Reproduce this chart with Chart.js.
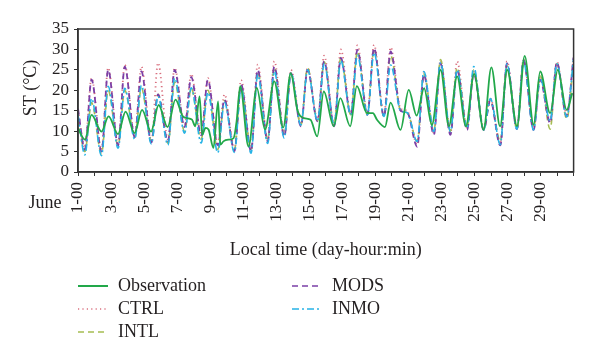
<!DOCTYPE html>
<html><head><meta charset="utf-8">
<script src="https://cdn.jsdelivr.net/npm/chart.js@4.4.1/dist/chart.umd.min.js"></script>
<style>html,body{margin:0;padding:0;background:#fff}canvas{display:block}</style>
</head><body>
<canvas id="c" width="600" height="361"></canvas>
<script>
// ---- data ----
// x tick labels, one per day tick (day 0 .. day 30)
const dayTickLabels = ['1-00','','3-00','','5-00','','7-00','','9-00','','11-00','','13-00','','15-00','','17-00','','19-00','','21-00','','23-00','','25-00','','27-00','','29-00','',''];
const yTicks = [0,5,10,15,20,25,30,35];

// Observation: time (hours since June 1 00:00) and soil temperature (°C)
const obsHours = [0,10.1,19.7,34.1,44.4,58.1,69.1,82.1,93.1,106.1,117.1,130.1,141.6,152.4,158.4,165.6,170.4,176.6,180.5,185.3,189.6,196.8,203.5,206.9,211.2,218.4,226.1,230.4,235.7,247.7,259.7,271.7,285.1,298.1,309.1,318.7,328.3,337.9,347.5,357.1,371.5,381.1,395.5,405.1,419.5,428.4,434.4,445.9,454.1,468.5,480.5,492.0,502.8,514.1,526.8,538.8,550.8,563.5,575.5,589.2,600.5,613.2,623.5,637.9,648.9,661.9,671.5,685.9,697.0,709.9,718.0];
const obsValues = [10.7,7.9,14.0,9.9,13.6,9.3,14.8,9.5,15.2,9.9,16.4,11.0,17.7,13.6,13.2,12.8,11.2,18.5,9.1,10.8,10.4,5.9,17.3,6.7,7.5,7.9,8.3,12.4,21.0,6.2,20.6,10.4,22.2,10.9,24.2,15.2,13.2,12.8,8.7,19.7,11.2,18.1,11.2,21.0,14.5,14.4,12.8,11.0,17.0,10.3,20.1,13.8,20.5,11.5,25.0,11.2,23.4,11.2,24.0,10.3,25.6,11.2,25.0,11.2,28.4,11.6,24.6,14.4,25.0,15.2,19.3];

// Model runs: start value, then daily minimum and daily maximum (days 1..30)
const ctrlStart = 15.0;
const ctrlMin = [6.0,5.5,7.0,9.0,7.7,8.0,11.5,9.5,7.0,5.6,5.6,8.0,9.2,11.7,12.9,11.7,14.5,14.5,14.1,15.5,6.7,9.6,9.6,10.8,10.8,7.0,11.0,10.8,12.5,14.1];
const ctrlMax = [23.0,25.5,26.2,25.8,26.7,25.5,24.0,23.0,19.0,22.5,26.3,27.1,25.0,25.5,28.5,30.0,31.0,31.1,30.5,15.0,24.5,27.3,27.1,25.0,18.0,27.1,27.5,23.5,27.0,27.8];

const intlStart = 13.0;
const intlMin = [5.0,4.5,6.5,8.5,7.5,7.0,10.0,8.0,5.5,5.5,5.5,8.0,9.0,11.5,12.5,11.5,14.0,14.0,13.5,15.0,7.5,10.0,10.0,11.0,10.5,7.5,10.5,10.8,10.5,13.0];
const intlMax = [17.0,20.0,20.0,20.5,19.0,22.0,20.5,20.0,17.5,21.0,24.5,25.5,24.0,25.5,27.0,28.0,29.5,30.0,28.5,14.5,24.0,27.5,25.5,25.0,17.5,26.0,27.5,23.5,26.5,26.5];

const modsStart = 15.5;
const modsMin = [5.5,5.0,6.5,8.5,7.2,7.5,11.0,9.0,6.5,5.1,5.1,7.5,8.7,11.2,12.4,11.2,14.0,14.0,13.6,15.0,6.2,9.1,9.1,10.3,10.3,6.5,10.5,10.3,12.0,13.6];
const modsMax = [22.6,25.0,25.8,24.6,19.0,25.0,23.2,22.5,17.7,21.4,25.0,25.8,24.2,25.0,27.1,27.9,29.9,30.3,29.5,14.5,23.8,26.5,25.0,24.2,17.5,26.6,27.3,22.6,26.8,28.0];

const inmoStart = 14.0;
const inmoMin = [4.2,4.0,5.8,8.0,6.9,6.6,9.5,7.1,4.7,4.8,4.6,7.0,8.3,11.5,12.5,11.5,14.0,14.0,13.6,15.0,7.5,9.9,9.9,10.7,10.3,6.7,10.5,10.3,12.5,13.5];
const inmoMax = [18.0,21.0,20.5,21.2,18.5,23.0,20.6,19.5,17.0,20.6,23.8,24.6,24.2,25.0,26.5,27.3,28.6,29.2,26.2,14.5,24.6,26.8,25.0,25.8,18.0,26.5,27.0,23.0,26.5,27.5];

// ---- build point lists (time of daily min / max drifts slightly across the month) ----
function modelPoints(start, mins, maxs) {
  const pts = [{x: 0, y: start}];
  for (let d = 0; d < mins.length; d++) {
    pts.push({x: d * 24 + 10 + 0.14 * d, y: mins[d]});
    pts.push({x: d * 24 + 19.7 + 0.14 * d, y: maxs[d]});
  }
  return pts;
}
const obsPoints = obsHours.map((h, i) => ({x: h, y: obsValues[i]}));

const TXT = '#231f20';
const SERIF = '"Liberation Serif", "DejaVu Serif", serif';

const legendItems = [
  {label: 'Observation', color: '#22a84a', dash: [], col: 0, row: 0, width: 2},
  {label: 'CTRL', color: '#d9707f', dash: [1.2, 3.2], col: 0, row: 1, width: 1.6},
  {label: 'INTL', color: '#a5bd52', dash: [6, 4], col: 0, row: 2, width: 1.6},
  {label: 'MODS', color: '#7b3fa6', dash: [6, 4], col: 1, row: 0, width: 1.6},
  {label: 'INMO', color: '#27b3e6', dash: [7, 3, 2, 3], col: 1, row: 1, width: 1.6}
];

const decor = {
  id: 'decor',
  afterDatasetsDraw(chart) {
    const {ctx, chartArea: a} = chart;
    ctx.save();
    ctx.strokeStyle = '#333';
    ctx.lineWidth = 1.5;
    ctx.strokeRect(a.left, a.top, a.right - a.left, a.bottom - a.top);
    ctx.restore();
  },
  afterDraw(chart) {
    const {ctx} = chart;
    ctx.save();
    ctx.fillStyle = TXT;
    ctx.font = '18px ' + SERIF;
    // y axis title
    ctx.save();
    ctx.translate(31, 88);
    ctx.rotate(-Math.PI / 2);
    ctx.textAlign = 'center';
    ctx.textBaseline = 'middle';
    ctx.fillText('ST (°C)', 0, 0);
    ctx.restore();
    // "June"
    ctx.textAlign = 'center';
    ctx.textBaseline = 'middle';
    ctx.fillText('June', 45, 203);
    // legend
    const colX = [78, 292], rowY = [286, 309, 332];
    legendItems.forEach(it => {
      const x = colX[it.col], y = rowY[it.row];
      ctx.save();
      ctx.strokeStyle = it.color;
      ctx.lineWidth = it.width;
      ctx.setLineDash(it.dash);
      ctx.beginPath();
      ctx.moveTo(x, y);
      ctx.lineTo(x + 30, y);
      ctx.stroke();
      ctx.restore();
      ctx.textAlign = 'left';
      ctx.textBaseline = 'middle';
      ctx.fillText(it.label, x + 40, y);
    });
    ctx.restore();
  }
};

new Chart(document.getElementById('c'), {
  type: 'line',
  data: {
    datasets: [
      {label: 'Observation', data: obsPoints, borderColor: '#22a84a', borderWidth: 1.8, order: 0},
      {label: 'INMO', data: modelPoints(inmoStart, inmoMin, inmoMax), borderColor: '#27b3e6', borderWidth: 1.6, borderDash: [7, 3, 2, 3], order: 1},
      {label: 'MODS', data: modelPoints(modsStart, modsMin, modsMax), borderColor: '#7b3fa6', borderWidth: 1.8, borderDash: [6, 4], order: 2},
      {label: 'INTL', data: modelPoints(intlStart, intlMin, intlMax), borderColor: '#a5bd52', borderWidth: 1.6, borderDash: [6, 4], order: 3},
      {label: 'CTRL', data: modelPoints(ctrlStart, ctrlMin, ctrlMax), borderColor: '#d9707f', borderWidth: 1.8, borderDash: [1.2, 3.2], order: 4}
    ]
  },
  options: {
    responsive: false,
    animation: false,
    devicePixelRatio: 1,
    elements: {
      point: {radius: 0},
      line: {cubicInterpolationMode: 'monotone', fill: false}
    },
    layout: {padding: {top: 29, right: 22, left: 0, bottom: 99}},
    plugins: {legend: {display: false}, tooltip: {enabled: false}},
    scales: {
      x: {
        type: 'linear', min: 0, max: 720,
        afterBuildTicks(scale) { scale.ticks = dayTickLabels.map((_, i) => ({value: i * 24})); },
        afterFit(scale) { scale.height = 90; },
        ticks: {
          autoSkip: false, minRotation: 90, maxRotation: 90, padding: 6,
          color: TXT, font: {family: SERIF, size: 17},
          callback: (v) => dayTickLabels[Math.round(v / 24)]
        },
        grid: {drawOnChartArea: false, drawTicks: true, tickLength: 4, color: '#333', lineWidth: 1},
        border: {display: true, color: '#333', width: 1.5},
        title: {display: true, text: 'Local time (day-hour:min)', color: TXT, font: {family: SERIF, size: 18}, padding: {top: 0, bottom: 1}}
      },
      y: {
        min: 0, max: 35,
        afterBuildTicks(scale) { scale.ticks = yTicks.map(v => ({value: v})); },
        afterFit(scale) { scale.width = 78; },
        ticks: {autoSkip: false, padding: 5, color: TXT, font: {family: SERIF, size: 17}},
        grid: {drawOnChartArea: false, drawTicks: true, tickLength: 4, color: '#333', lineWidth: 1},
        border: {display: true, color: '#333', width: 1.5}
      }
    }
  },
  plugins: [decor]
});
</script>
</body></html>
